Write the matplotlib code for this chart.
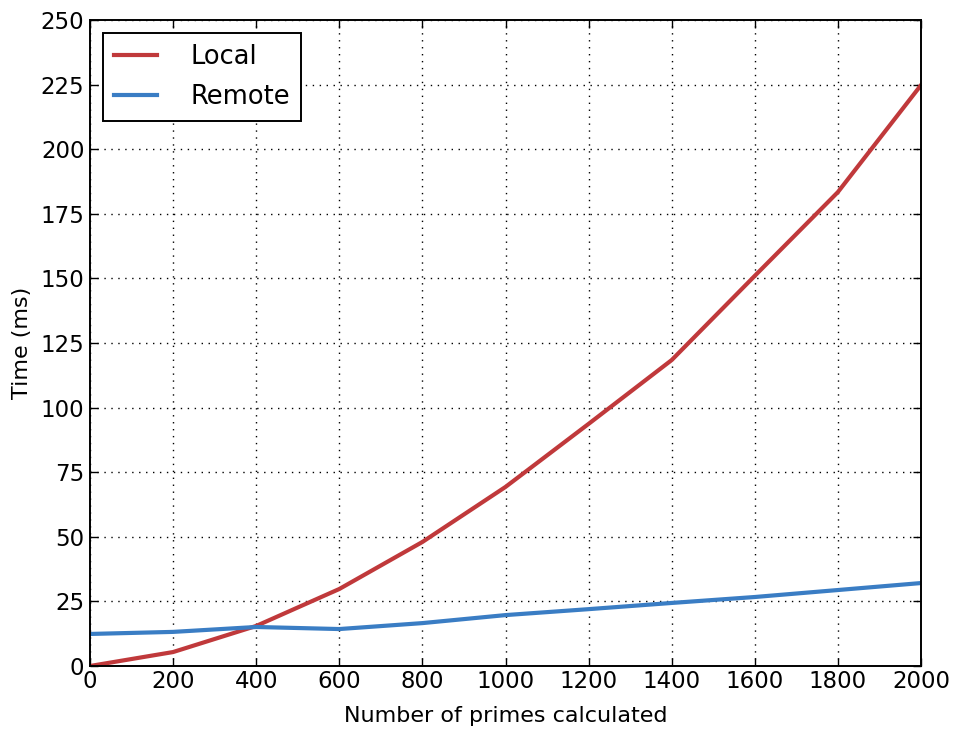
import matplotlib
matplotlib.use("Agg")
import matplotlib.pyplot as plt

x = [0, 200, 400, 600, 800, 1000, 1200, 1400, 1600, 1800, 2000]
local = [0, 5.4, 15.5, 29.8, 48, 69.3, 93.7, 118.4, 151, 183.4, 224.8]
remote = [12.4, 13.2, 15.1, 14.3, 16.6, 19.7, 22, 24.4, 26.7, 29.4, 32.1]

W, H = 957, 729
fig = plt.figure(figsize=(W/100, H/100), dpi=100)
ax = fig.add_axes([90/W, 1-666/H, (921-90)/W, (666-20)/H])
ax.plot(x, local, color='#c0393b', lw=3, label='Local')
ax.plot(x, remote, color='#3a7dc4', lw=3, label='Remote')
ax.set_xlim(0, 2000)
ax.set_ylim(0, 250)
ax.set_xticks(range(0, 2001, 200))
ax.set_yticks(range(0, 251, 25))
ax.grid(True, color='black', linestyle=(0, (1, 4)), linewidth=1)
ax.tick_params(direction='in', length=6, width=1, labelsize=16.5, top=True, right=True)
ax.tick_params(axis='x', pad=3)
ax.tick_params(axis='y', pad=4)
for s in ax.spines.values():
    s.set_linewidth(1.4)
ax.set_xlabel('Number of primes calculated', fontsize=16, labelpad=9)
ax.set_ylabel('Time (ms)', fontsize=16, labelpad=6)
leg = ax.legend(loc='upper left', fontsize=18.5, fancybox=False, framealpha=1,
                edgecolor='black', handlelength=1.65, borderpad=0.45, labelspacing=0.52,
                handletextpad=1.3, borderaxespad=0.5)
leg.get_frame().set_linewidth(1.4)
fig.savefig('out.png', dpi=100)
